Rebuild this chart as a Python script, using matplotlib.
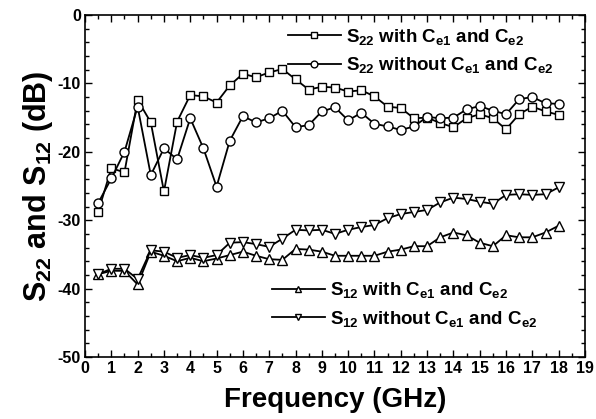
import numpy as np
import matplotlib
matplotlib.use('Agg')
import matplotlib.pyplot as plt
from matplotlib.ticker import MultipleLocator

plt.rcParams['font.family'] = ['Liberation Sans', 'DejaVu Sans']
plt.rcParams['font.weight'] = 'bold'
plt.rcParams['mathtext.fontset'] = 'custom'
plt.rcParams['mathtext.rm'] = 'Liberation Sans:bold'
plt.rcParams['mathtext.it'] = 'Liberation Sans:bold'
plt.rcParams['mathtext.bf'] = 'Liberation Sans:bold'
plt.rcParams['axes.unicode_minus'] = False

freq = np.arange(0.5, 18.01, 0.5)

# S22 with Ce1 and Ce2 (squares)
s22_with = [-28.8, -22.4, -23.0, -12.4, -15.7, -25.8, -15.6, -11.7, -11.9, -12.8,
            -10.3, -8.6, -9.1, -8.4, -7.9, -9.4, -10.9, -10.5, -10.6, -11.2,
            -11.0, -11.9, -13.4, -13.6, -15.1, -15.0, -15.8, -16.4, -15.1, -14.5,
            -15.1, -16.7, -14.5, -13.4, -14.1, -14.6]
# S22 without Ce1 and Ce2 (circles)
s22_without = [-27.5, -23.9, -20.0, -13.4, -23.4, -19.5, -21.1, -15.1, -19.5, -25.1,
               -18.4, -14.8, -15.7, -15.1, -14.0, -16.4, -16.1, -14.1, -13.5, -15.4,
               -14.3, -15.9, -16.3, -16.8, -16.3, -14.9, -15.1, -15.0, -13.8, -13.3,
               -14.0, -14.5, -12.3, -12.0, -12.9, -13.0]
# S12 with Ce1 and Ce2 (up triangles)
s12_with = [-37.9, -37.4, -37.4, -39.4, -34.6, -35.2, -36.0, -35.5, -36.0, -35.6,
            -35.1, -34.6, -35.2, -35.7, -35.8, -34.2, -34.3, -34.6, -35.2, -35.2,
            -35.2, -35.2, -34.6, -34.3, -33.8, -33.8, -32.5, -31.8, -32.2, -33.3,
            -33.8, -32.2, -32.5, -32.5, -31.8, -30.8]
# S12 without Ce1 and Ce2 (down triangles)
s12_without = [-37.9, -37.1, -37.1, -38.6, -34.4, -34.6, -35.5, -35.1, -35.5, -35.1,
               -33.3, -33.2, -33.5, -33.9, -32.7, -31.4, -31.5, -31.4, -32.0, -31.4,
               -31.0, -30.7, -29.7, -29.1, -28.8, -28.5, -27.4, -26.7, -26.9, -27.3,
               -27.6, -26.3, -26.2, -26.3, -26.2, -25.2]

fig = plt.figure(figsize=(5.96, 4.19), dpi=100)
ax = fig.add_axes([85/596, 1-357/419, 500/596, 342/419])

kw = dict(color='black', lw=1.3, mfc='white', mec='black', mew=1.0)
l1, = ax.plot(freq, s22_with, marker='s', ms=5.8, label=r'S$_{22}$ with C$_{e1}$ and C$_{e2}$', **kw)
l2, = ax.plot(freq, s22_without, marker='o', ms=6.5, label=r'S$_{22}$ without C$_{e1}$ and C$_{e2}$', **kw)
l3, = ax.plot(freq, s12_with, marker='^', ms=6.5, label=r'S$_{12}$ with C$_{e1}$ and C$_{e2}$', **kw)
l4, = ax.plot(freq, s12_without, marker='v', ms=6.5, label=r'S$_{12}$ without C$_{e1}$ and C$_{e2}$', **kw)

ax.set_xlim(0, 19)
ax.set_ylim(-50, 0)
ax.xaxis.set_major_locator(MultipleLocator(1))
ax.xaxis.set_minor_locator(MultipleLocator(0.5))
ax.yaxis.set_major_locator(MultipleLocator(10))
ax.yaxis.set_minor_locator(MultipleLocator(2))
ax.tick_params(which='both', direction='in', top=True, right=True, width=1.0)
ax.tick_params(which='major', length=5, labelsize=11.5, pad=3)
ax.tick_params(which='minor', length=3)
for lab in ax.get_xticklabels() + ax.get_yticklabels():
    lab.set_fontweight('bold')
for sp in ax.spines.values():
    sp.set_linewidth(1.2)

ax.set_xlabel('Frequency (GHz)', fontsize=20, fontweight='bold', labelpad=8)
ax.set_ylabel(r'S$_{22}$ and S$_{12}$ (dB)', fontsize=22, fontweight='bold', labelpad=2)

legkw = dict(frameon=False, fontsize=13.5, handlelength=2.8, handletextpad=0.3,
             labelspacing=0.45, borderaxespad=0.0, borderpad=0.0, markerscale=0.75)
leg1 = ax.legend(handles=[l1, l2], loc='upper right',
                 bbox_to_anchor=(0.937, 0.965), **legkw)
ax.add_artist(leg1)
ax.legend(handles=[l3, l4], loc='lower right',
          bbox_to_anchor=(0.905, 0.083), **legkw)

fig.savefig('out.png', dpi=100)
